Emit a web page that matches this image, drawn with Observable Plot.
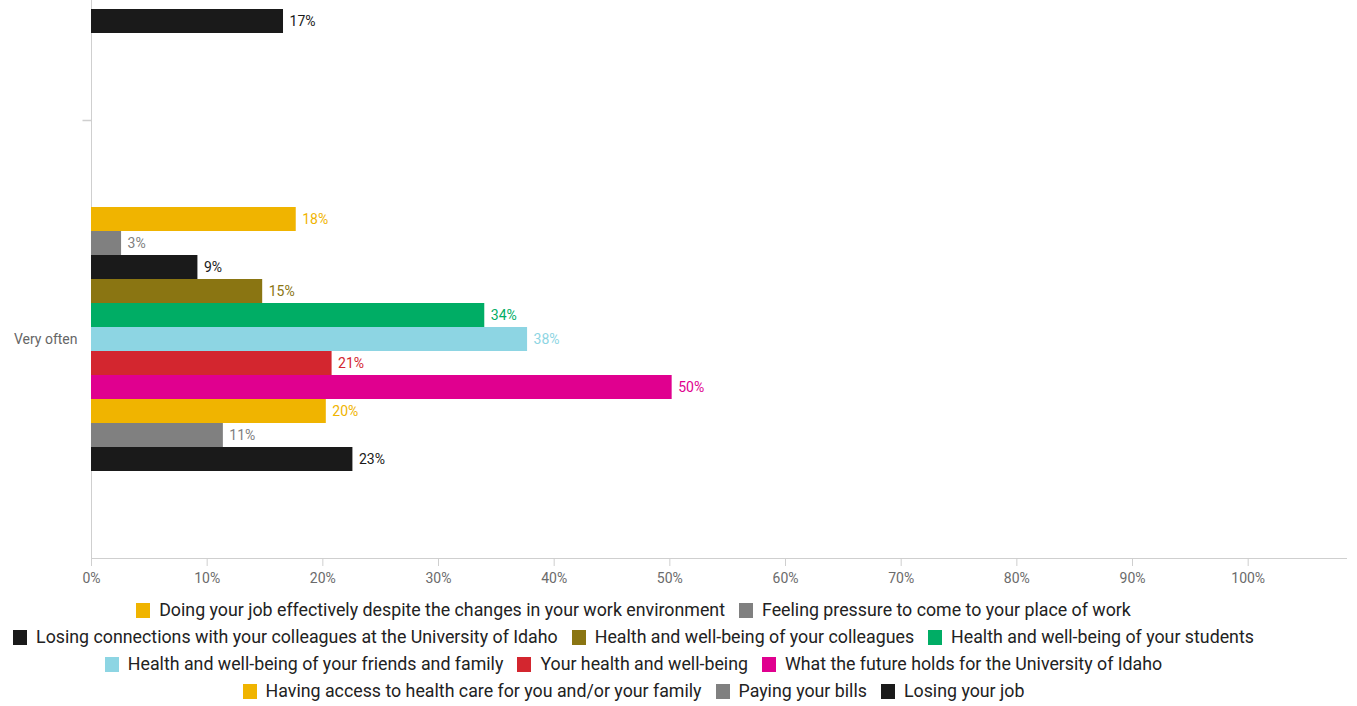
<!DOCTYPE html>
<html><head><meta charset="utf-8">
<script src="https://cdn.jsdelivr.net/npm/d3@7"></script>
<script src="https://cdn.jsdelivr.net/npm/@observablehq/plot@0.6"></script>
<style>
body{margin:0;background:#fff;font-family:Roboto, sans-serif;}
#legend{width:1267px;text-align:center;font-size:17.8px;color:#222;}
.row{white-space:nowrap;height:27px;line-height:27px;}
.item{display:inline-block;margin:0 7px;}
.sw{width:14px;height:15px;margin-right:9px;display:inline-block;vertical-align:-2px}
</style></head><body><div id="chart"></div><div id="legend"></div>
<script>
const categories = ["Often", "Very often"];
const series = [
  "Doing your job effectively despite the changes in your work environment",
  "Feeling pressure to come to your place of work",
  "Losing connections with your colleagues at the University of Idaho",
  "Health and well-being of your colleagues",
  "Health and well-being of your students",
  "Health and well-being of your friends and family",
  "Your health and well-being",
  "What the future holds for the University of Idaho",
  "Having access to health care for you and/or your family",
  "Paying your bills",
  "Losing your job"
];
const colors = ["#F0B400","#808080","#1A1A1A","#8A7512","#00AD65","#8DD5E3","#D3262F","#E0008F","#F0B400","#808080","#1A1A1A"];
const veryOftenValues = [0.177, 0.026, 0.092, 0.148, 0.34, 0.377, 0.208, 0.502, 0.203, 0.114, 0.226];
const oftenSeries = ["Losing your job"];
const oftenValues = [0.166];
const xTicks = [0, 0.1, 0.2, 0.3, 0.4, 0.5, 0.6, 0.7, 0.8, 0.9, 1.0];
const legendRows = [[0,1],[2,3,4],[5,6,7],[8,9,10]];

const data = [
  ...oftenSeries.map((s, i) => ({cat: categories[0], series: s, value: oftenValues[i]})),
  ...series.map((s, i) => ({cat: categories[1], series: s, value: veryOftenValues[i]}))
];
const pct = d3.format(".0%");
const sepTick = {draw(ctx) { ctx.moveTo(-9, 0); ctx.lineTo(0, 0); }};

const chart = Plot.plot({
  width: 1357, height: 596,
  marginLeft: 91, marginRight: 11, marginTop: 0, marginBottom: 38,
  style: {fontFamily: "Roboto, sans-serif", fontSize: "14px", background: "#fff"},
  x: {domain: [0, 1.085], axis: null},
  y: {domain: series, paddingInner: 0, paddingOuter: 3.59, axis: null},
  fy: {domain: categories, range: [-318, 558], padding: 0, axis: null},
  color: {domain: series, range: colors},
  marks: [
    Plot.ruleX([0], {stroke: "#cfcfcf"}),
    Plot.frame({anchor: "bottom", stroke: "#cfcfcf", fy: [categories[1]]}),
    Plot.dot([categories[1]], {fy: d => d, frameAnchor: "top-left", symbol: sepTick, stroke: "#cfcfcf", fill: "none"}),
    Plot.barX(data, {x: "value", y: "series", fy: "cat", fill: "series"}),
    Plot.text(data, {x: "value", y: "series", fy: "cat", text: d => pct(d.value), fill: "series", dx: 6, textAnchor: "start", fontSize: 14}),
    Plot.axisX({ticks: xTicks, tickFormat: pct, tickSize: 8, stroke: "#cfcfcf", fill: "#6b6b6b", tickPadding: 7, fontSize: 14, label: null}),
    Plot.axisFy({anchor: "left", ticks: [categories[1]], tickSize: 0, tickPadding: 14, fill: "#666", fontSize: 14, label: null})
  ]
});
document.getElementById("chart").append(chart);

const legend = document.getElementById("legend");
legendRows.forEach(row => {
  const r = document.createElement("div");
  r.className = "row";
  row.forEach(i => {
    const it = document.createElement("span");
    it.className = "item";
    const sw = document.createElement("span");
    sw.className = "sw";
    sw.style.background = colors[i];
    it.append(sw, document.createTextNode(series[i]));
    r.append(it);
  });
  legend.append(r);
});
</script></body></html>
